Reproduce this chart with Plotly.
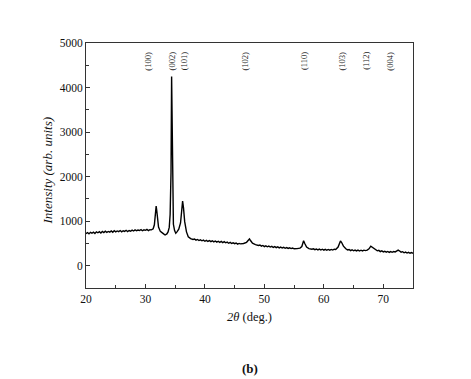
import plotly.graph_objects as go

two_theta = [20.0, 20.25, 20.5, 20.75, 21.0, 21.25, 21.5, 21.75, 22.0, 22.25, 22.5, 22.75, 23.0, 23.25, 23.5, 23.75,
             24.0, 24.25, 24.5, 24.75, 25.0, 25.25, 25.5, 25.75, 26.0, 26.25, 26.5, 26.75, 27.0, 27.25, 27.5, 27.75,
             28.0, 28.25, 28.5, 28.75, 29.0, 29.25, 29.5, 29.75, 30.0, 30.25, 30.5, 30.75, 31.0, 31.3, 31.5, 31.7,
             31.8, 31.9, 32.0, 32.2, 32.5, 32.8, 33.0, 33.3, 33.6, 33.8, 34.0, 34.15, 34.3, 34.4, 34.47, 34.55,
             34.7, 34.9, 35.1, 35.3, 35.6, 35.9, 36.1, 36.25, 36.4, 36.6, 36.9, 37.2, 37.6, 38.0, 38.25, 38.5,
             38.75, 39.0, 39.25, 39.5, 39.75, 40.0, 40.25, 40.5, 40.75, 41.0, 41.25, 41.5, 41.75, 42.0, 42.25, 42.5,
             42.75, 43.0, 43.25, 43.5, 43.75, 44.0, 44.25, 44.5, 44.75, 45.0, 45.25, 45.5, 45.75, 46.0, 46.5, 47.0,
             47.3, 47.5, 47.7, 48.0, 48.5, 49.0, 49.25, 49.5, 49.75, 50.0, 50.25, 50.5, 50.75, 51.0, 51.25, 51.5,
             51.75, 52.0, 52.25, 52.5, 52.75, 53.0, 53.25, 53.5, 53.75, 54.0, 54.25, 54.5, 54.75, 55.0, 55.5, 56.0,
             56.3, 56.6, 56.8, 57.1, 57.5, 58.0, 58.25, 58.5, 58.75, 59.0, 59.25, 59.5, 59.75, 60.0, 60.25, 60.5,
             60.75, 61.0, 61.25, 61.5, 61.75, 62.0, 62.4, 62.8, 63.0, 63.3, 63.7, 64.0, 64.25, 64.5, 64.75, 65.0,
             65.25, 65.5, 65.75, 66.0, 66.25, 66.5, 66.75, 67.0, 67.3, 67.6, 67.9, 68.1, 68.5, 69.0, 69.25, 69.5,
             69.75, 70.0, 70.25, 70.5, 70.75, 71.0, 71.25, 71.5, 71.75, 72.0, 72.3, 72.5, 72.7, 73.0, 73.25, 73.5,
             73.75, 74.0, 74.25, 74.5, 74.75, 75.0]
intensity = [720, 745, 715, 750, 730, 755, 725, 760, 740, 765, 735, 770, 745, 775, 750, 770,
             755, 780, 750, 785, 760, 780, 765, 790, 760, 785, 770, 795, 765, 790, 775, 800,
             780, 805, 785, 800, 790, 810, 785, 805, 795, 815, 790, 810, 805, 830, 920, 1180,
             1340, 1240, 1040, 870, 770, 730, 720, 690, 715, 760, 860, 1150, 2100, 4250, 3300, 1700,
             930, 790, 730, 760, 820, 960, 1220, 1450, 1300, 990, 760, 650, 610, 590, 600, 575,
             590, 565, 580, 560, 575, 550, 570, 545, 565, 540, 560, 535, 555, 530, 550, 525,
             545, 520, 540, 515, 530, 505, 525, 500, 515, 495, 510, 485, 500, 490, 500, 525,
             570, 600, 560, 505, 475, 455, 465, 440, 455, 430, 445, 425, 440, 420, 435, 410,
             428, 405, 422, 400, 418, 398, 412, 392, 408, 388, 402, 385, 398, 380, 385, 395,
             430, 560, 500, 420, 385, 370, 380, 360, 375, 355, 372, 352, 370, 350, 368, 348,
             365, 350, 366, 352, 370, 365, 420, 555, 520, 440, 380, 355, 365, 340, 358, 335,
             352, 332, 350, 330, 348, 332, 350, 340, 350, 380, 440, 420, 370, 335, 345, 318,
             335, 310, 325, 305, 320, 300, 318, 302, 320, 310, 335, 350, 335, 305, 315, 290,
             305, 285, 300, 280, 295, 280]

x_ticks = [20, 30, 40, 50, 60, 70]
y_ticks = [0, 1000, 2000, 3000, 4000, 5000]

peak_labels = ["(100)", "(002)", "(101)", "(102)", "(110)", "(103)", "(112)", "(004)"]
peak_label_pos = [30.4, 34.4, 36.4, 46.7, 56.7, 63.0, 67.1, 71.1]
label_y = 4600

serif = "Liberation Serif"

fig = go.Figure()
fig.add_trace(go.Scatter(x=two_theta, y=intensity, mode="lines",
                         line=dict(color="black", width=1.4), showlegend=False))

for lab, pos in zip(peak_labels, peak_label_pos):
    fig.add_annotation(x=pos, y=label_y, xref="x", yref="y", text=lab, textangle=-90,
                       xanchor="center", yanchor="middle",
                       showarrow=False, font=dict(family=serif, size=8.5, color="#222"))

fig.add_annotation(x=-0.119, y=0.48, xref="paper", yref="paper", text="<i>Intensity (arb. units)</i>",
                   textangle=-90, xanchor="center", yanchor="middle",
                   showarrow=False, font=dict(family=serif, size=13, color="#111"))
fig.add_annotation(x=0.5, y=-0.118, xref="paper", yref="paper", text="<i>2θ</i> (deg.)",
                   xanchor="center", yanchor="middle",
                   showarrow=False, font=dict(family=serif, size=12.5, color="#111"))
fig.add_annotation(x=0.5, y=-0.327, xref="paper", yref="paper", text="<b>(b)</b>",
                   xanchor="center", yanchor="middle",
                   showarrow=False, font=dict(family=serif, size=13, color="#111"))

fig.update_layout(
    width=471, height=379,
    margin=dict(l=86, r=58, t=43, b=91),
    paper_bgcolor="white", plot_bgcolor="white",
    font=dict(family=serif, size=11, color="#111"),
)
fig.update_xaxes(range=[20, 75], tickvals=x_ticks, ticks="inside", ticklen=4, tickcolor="#333",
                 showline=True, linecolor="#333", linewidth=1, mirror=True, showgrid=False, zeroline=False,
                 minor=dict(dtick=5, ticks="inside", ticklen=3, tickcolor="#333"),
                 tickfont=dict(family=serif, size=11.5))
fig.update_yaxes(range=[-500, 5000], tickvals=y_ticks, ticks="inside", ticklen=4, tickcolor="#333",
                 showline=True, linecolor="#333", linewidth=1, mirror=True, showgrid=False, zeroline=False,
                 minor=dict(dtick=500, ticks="inside", ticklen=3, tickcolor="#333"),
                 tickfont=dict(family=serif, size=11.5))

fig.write_html("out.html")
